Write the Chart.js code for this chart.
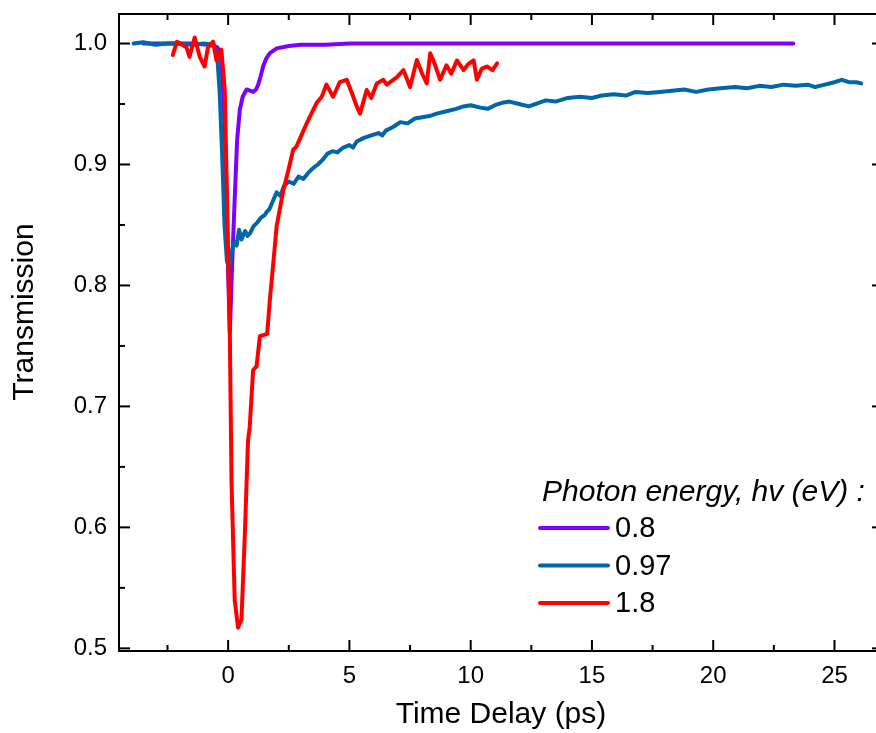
<!DOCTYPE html>
<html>
<head>
<meta charset="utf-8">
<title>Transmission vs time delay</title>
<script src="https://cdn.jsdelivr.net/npm/chart.js@4.4.1/dist/chart.umd.min.js"></script>
<style>
  html, body { margin: 0; padding: 0; overflow: hidden; background: #fff; }
  #chart { display: block; width: 890px; height: 733px; }
</style>
</head>
<body>
<canvas id="chart" width="890" height="733"></canvas>
<script>
// photon energy labels (eV)
const seriesLabels = ['0.8', '0.97', '1.8'];
const seriesColors = ['#8000ff', '#0066aa', '#ff0000'];
const legendTitle = 'Photon energy, hv (eV) :';

const xTickValues = [0, 5, 10, 15, 20, 25];
const yTickValues = [0.5, 0.6, 0.7, 0.8, 0.9, 1.0];

// 0.8 eV
const delay08 = [-3.5, -2.5, -1.5, -0.8, -0.45, -0.3, -0.18, -0.08, 0.0, 0.07, 0.17, 0.27, 0.37, 0.48, 0.6, 0.76, 0.9, 1.03, 1.15, 1.24, 1.34, 1.44, 1.58, 1.72, 2.0, 2.5, 3.0, 4.0, 5.0, 7, 10, 13, 16, 19, 21, 23.3];
const trans08 = [1.0, 1.0, 1.0, 0.999, 0.997, 0.99, 0.95, 0.89, 0.81, 0.761, 0.82, 0.871, 0.92, 0.945, 0.956, 0.962, 0.961, 0.960, 0.962, 0.966, 0.973, 0.981, 0.988, 0.992, 0.996, 0.998, 0.999, 0.999, 1.0, 1.0, 1.0, 1.0, 1.0, 1.0, 1.0, 1.0];

// 0.97 eV
const delay097 = [-3.9, -3.5, -3.0, -2.5, -2.0, -1.5, -1.0, -0.6, -0.45, -0.35, -0.25, -0.15, -0.05, 0.05, 0.15, 0.25, 0.35, 0.45, 0.55, 0.7, 0.8, 0.9, 1.05, 1.2, 1.35, 1.5, 1.6, 1.7, 1.85, 2.0, 2.15, 2.3, 2.5, 2.7, 2.9, 3.1, 3.3, 3.5, 3.7, 3.9, 4.1, 4.3, 4.5, 4.75, 5.0, 5.15, 5.3, 5.6, 5.9, 6.2, 6.35, 6.5, 6.8, 7.1, 7.4, 7.7, 8.0, 8.3, 8.6, 9.0, 9.4, 9.7, 10.0, 10.4, 10.7, 11.0, 11.3, 11.6, 12.0, 12.4, 12.8, 13.1, 13.5, 14.0, 14.5, 15.0, 15.4, 15.9, 16.4, 16.8, 17.3, 17.8, 18.3, 18.8, 19.3, 19.8, 20.3, 20.9, 21.4, 21.9, 22.4, 22.9, 23.4, 23.9, 24.2, 24.6, 25.0, 25.3, 25.6, 25.9, 26.1];
const trans097 = [1.000, 1.001, 0.999, 1.000, 1.000, 0.999, 1.000, 0.999, 0.99, 0.96, 0.91, 0.85, 0.82, 0.815, 0.828, 0.836, 0.833, 0.846, 0.838, 0.845, 0.841, 0.843, 0.849, 0.852, 0.856, 0.858, 0.861, 0.863, 0.870, 0.877, 0.874, 0.882, 0.886, 0.884, 0.890, 0.888, 0.893, 0.897, 0.900, 0.904, 0.909, 0.911, 0.910, 0.914, 0.916, 0.914, 0.919, 0.922, 0.924, 0.926, 0.924, 0.928, 0.931, 0.935, 0.934, 0.938, 0.939, 0.940, 0.942, 0.944, 0.946, 0.948, 0.949, 0.947, 0.946, 0.949, 0.951, 0.952, 0.950, 0.948, 0.951, 0.953, 0.952, 0.955, 0.956, 0.955, 0.957, 0.958, 0.957, 0.960, 0.959, 0.960, 0.961, 0.962, 0.960, 0.962, 0.963, 0.964, 0.963, 0.965, 0.964, 0.966, 0.965, 0.966, 0.964, 0.966, 0.968, 0.970, 0.968, 0.968, 0.967];

// 1.8 eV
const delay18 = [-2.28, -2.11, -1.9, -1.72, -1.59, -1.38, -1.17, -0.97, -0.83, -0.62, -0.48, -0.28, -0.14, 0.07, 0.14, 0.27, 0.41, 0.55, 0.69, 0.82, 0.89, 1.03, 1.17, 1.31, 1.61, 1.72, 1.86, 2.0, 2.27, 2.48, 2.68, 2.82, 3.24, 3.65, 3.86, 4.05, 4.33, 4.6, 4.89, 5.16, 5.3, 5.44, 5.71, 5.9, 6.13, 6.4, 6.54, 6.95, 7.23, 7.5, 7.78, 8.0, 8.19, 8.33, 8.5, 8.74, 9.0, 9.2, 9.43, 9.71, 9.9, 10.12, 10.26, 10.45, 10.67, 10.9, 11.09];
const trans18 = [0.9905, 1.0015, 0.999, 0.997, 0.989, 1.005, 0.989, 0.981, 0.997, 1.0015, 0.986, 0.995, 0.962, 0.76, 0.637, 0.54, 0.517, 0.524, 0.595, 0.672, 0.683, 0.73, 0.733, 0.758, 0.760, 0.788, 0.818, 0.849, 0.878, 0.895, 0.912, 0.915, 0.934, 0.951, 0.956, 0.966, 0.956, 0.968, 0.970, 0.956, 0.948, 0.942, 0.9616, 0.955, 0.967, 0.970, 0.966, 0.972, 0.978, 0.964, 0.9864, 0.975, 0.967, 0.992, 0.984, 0.970, 0.982, 0.975, 0.986, 0.978, 0.983, 0.986, 0.970, 0.979, 0.981, 0.978, 0.9836];

const FONT = "'Liberation Sans', Arial, sans-serif";

const toPoints = (xs, ys) => xs.map((x, i) => ({ x: x, y: ys[i] }));

// frame, inward ticks on all four sides, y title and legend
const framePlugin = {
  id: 'frame',
  afterDraw(chart) {
    const { ctx, chartArea: a, scales: { x, y } } = chart;
    ctx.save();
    ctx.strokeStyle = '#000';
    ctx.lineWidth = 2;
    ctx.strokeRect(a.left, a.top, a.right - a.left, a.bottom - a.top);

    const tick = (x0, y0, x1, y1) => {
      ctx.beginPath();
      ctx.moveTo(x0, y0);
      ctx.lineTo(x1, y1);
      ctx.stroke();
    };
    for (let v = -2.5; v <= 27; v += 2.5) {
      const px = x.getPixelForValue(v);
      if (px < a.left || px > a.right) continue;
      const len = v % 5 === 0 ? 11 : 6;
      tick(px, a.bottom, px, a.bottom - len);
      tick(px, a.top, px, a.top + len);
    }
    for (let v = 0.5; v <= 1.0001; v += 0.05) {
      const py = y.getPixelForValue(v);
      const len = Math.round(v * 100) % 10 === 0 ? 11 : 6;
      tick(a.left, py, a.left + len, py);
      tick(a.right, py, a.right - len, py);
    }

    // y axis title
    ctx.fillStyle = '#000';
    ctx.font = '30px ' + FONT;
    ctx.textAlign = 'center';
    ctx.textBaseline = 'middle';
    ctx.translate(25, 312);
    ctx.rotate(-Math.PI / 2);
    ctx.fillText('Transmission', 0, 0);
    ctx.setTransform(1, 0, 0, 1, 0, 0);

    // legend
    ctx.textAlign = 'left';
    ctx.font = 'italic 30px ' + FONT;
    ctx.fillText(legendTitle, 542, 493);
    ctx.font = '29px ' + FONT;
    ctx.lineWidth = 4;
    ctx.lineCap = 'round';
    chart.data.datasets.forEach((ds, i) => {
      const ly = 528 + i * 37.5;
      ctx.strokeStyle = ds.borderColor;
      tick(540, ly, 608, ly);
      ctx.fillText(ds.label, 615, ly + 1);
    });
    ctx.restore();
  }
};

new Chart(document.getElementById('chart'), {
  type: 'line',
  data: {
    datasets: [
      { label: seriesLabels[0], data: toPoints(delay08, trans08), borderColor: seriesColors[0], order: 3 },
      { label: seriesLabels[1], data: toPoints(delay097, trans097), borderColor: seriesColors[1], order: 2 },
      { label: seriesLabels[2], data: toPoints(delay18, trans18), borderColor: seriesColors[2], order: 1 }
    ]
  },
  options: {
    responsive: false,
    animation: false,
    devicePixelRatio: 1,
    layout: { padding: { top: 14, right: 7, left: 0, bottom: 0 } },
    elements: {
      line: { borderWidth: 4, tension: 0, borderJoinStyle: 'round', borderCapStyle: 'round' },
      point: { radius: 0 }
    },
    plugins: { legend: { display: false }, tooltip: { enabled: false } },
    scales: {
      x: {
        type: 'linear',
        min: -4.5,
        max: 27,
        afterBuildTicks: s => { s.ticks = xTickValues.map(v => ({ value: v })); },
        afterFit: s => { s.height = 82; s.paddingLeft = 0; s.paddingRight = 0; },
        grid: { display: false, drawTicks: false },
        border: { display: false },
        ticks: { padding: 11, color: '#000', font: { family: FONT, size: 24 }, maxRotation: 0 },
        title: {
          display: true,
          text: 'Time Delay (ps)',
          color: '#000',
          font: { family: FONT, size: 30, lineHeight: 1 },
          padding: { top: 0, bottom: 3 }
        }
      },
      y: {
        type: 'linear',
        min: 0.4978,
        max: 1.0244,
        afterBuildTicks: s => { s.ticks = yTickValues.map(v => ({ value: v })); },
        afterFit: s => { s.width = 119; s.paddingTop = 0; s.paddingBottom = 0; },
        grid: { display: false, drawTicks: false },
        border: { display: false },
        ticks: { padding: 12, color: '#000', font: { family: FONT, size: 24 }, callback: v => v.toFixed(1) }
      }
    }
  },
  plugins: [framePlugin]
});
</script>
</body>
</html>
